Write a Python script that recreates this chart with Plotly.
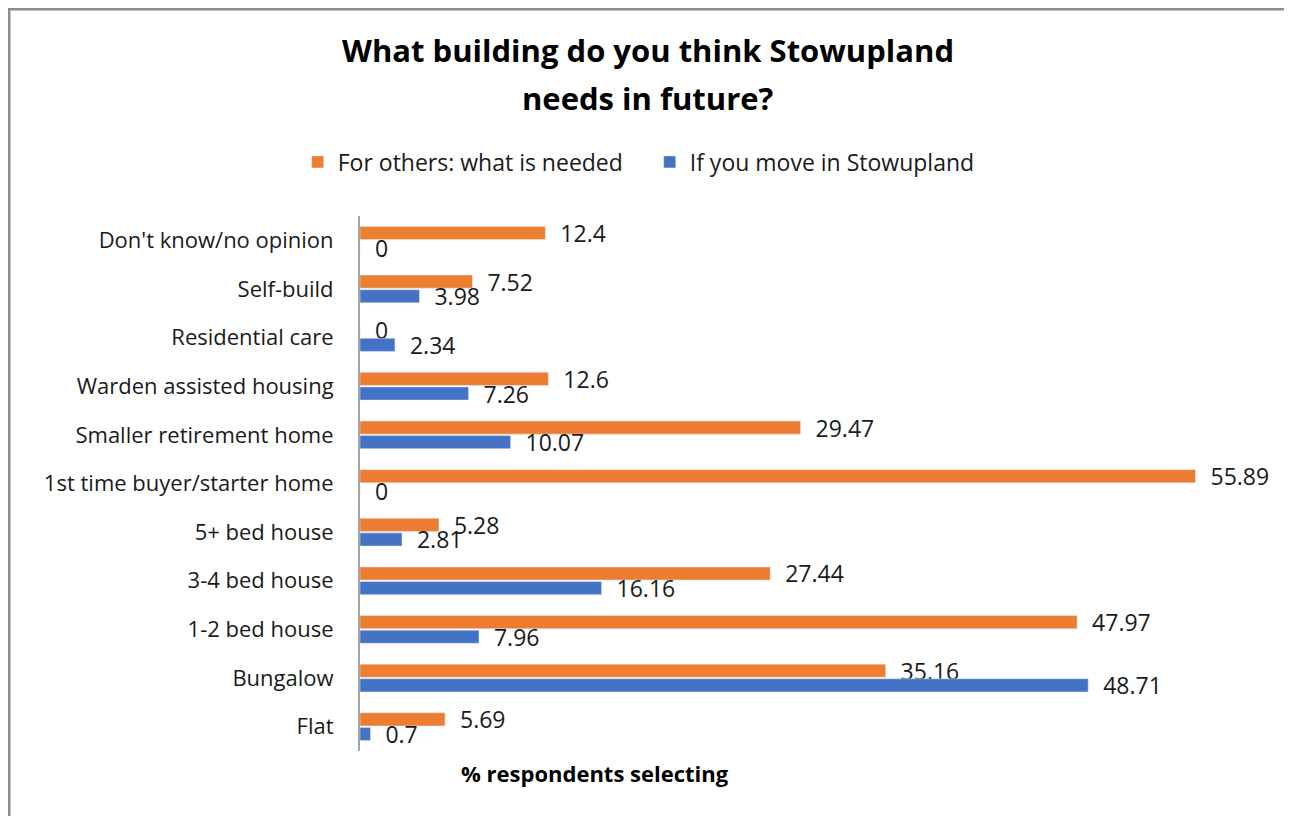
import plotly.graph_objects as go

categories = [
    "Don't know/no opinion",
    "Self-build",
    "Residential care",
    "Warden assisted housing",
    "Smaller retirement home",
    "1st time buyer/starter home",
    "5+ bed house",
    "3-4 bed house",
    "1-2 bed house",
    "Bungalow",
    "Flat",
]
for_others = [12.4, 7.52, 0, 12.6, 29.47, 55.89, 5.28, 27.44, 47.97, 35.16, 5.69]
if_you_move = [0, 3.98, 2.34, 7.26, 10.07, 0, 2.81, 16.16, 7.96, 48.71, 0.7]

FONT = "Open Sans, Noto Sans, sans-serif"
PAD = "\u00a0\u00a0"

fig = go.Figure()
fig.add_trace(go.Bar(
    y=categories, x=for_others, orientation="h",
    name="For others: what is needed",
    marker=dict(color="#ED7D31"),
    text=[PAD + str(v) for v in for_others], textposition="outside",
    constraintext="none",
    textfont=dict(size=23, color="#1a1a1a", family=FONT),
    cliponaxis=False,
))
fig.add_trace(go.Bar(
    y=categories, x=if_you_move, orientation="h",
    name="If you move in Stowupland",
    marker=dict(color="#4472C4"),
    text=[PAD + str(v) for v in if_you_move], textposition="outside",
    constraintext="none",
    textfont=dict(size=23, color="#1a1a1a", family=FONT),
    cliponaxis=False,
))

fig.update_layout(
    width=1284, height=808,
    margin=dict(l=352, r=35, t=208, b=65),
    paper_bgcolor="white", plot_bgcolor="white",
    font=dict(family=FONT, size=22, color="#1a1a1a"),
    barmode="group", bargap=0.4, bargroupgap=0.1,
    showlegend=True,
    legend=dict(
        orientation="h", x=0.323, xanchor="center", y=1.101, yanchor="middle",
        font=dict(size=23, family=FONT), traceorder="normal",
        entrywidth=307, entrywidthmode="pixels",
    ),
    xaxis=dict(range=[0, 60], showgrid=False, zeroline=False, showticklabels=False,
               showline=False, ticks=""),
    yaxis=dict(autorange="reversed", showline=True, linecolor="#a6a6a6", linewidth=2,
               ticks="", ticklabelstandoff=20, automargin=False,
               tickfont=dict(size=22, family=FONT)),
    annotations=[
        dict(text="<b>What building do you think Stowupland</b>", xref="paper", yref="paper",
             x=0.321, y=1.310, xanchor="center", yanchor="middle", showarrow=False,
             font=dict(size=31, family=FONT, color="#000000")),
        dict(text="<b>needs in future?</b>", xref="paper", yref="paper",
             x=0.321, y=1.2206, xanchor="center", yanchor="middle", showarrow=False,
             font=dict(size=31, family=FONT, color="#000000")),
        dict(text="<b>% respondents selecting</b>", xref="paper", yref="paper",
             x=0.262, y=-0.042, xanchor="center", yanchor="middle", showarrow=False,
             font=dict(size=22, family=FONT, color="#000000")),
    ],
    shapes=[dict(
        type="rect", xref="paper", yref="paper",
        x0=-0.3913, x1=1.034, y0=-0.2, y1=1.387,
        line=dict(color="#8c8c8c", width=3), fillcolor="rgba(0,0,0,0)", layer="below",
    )],
)

fig.write_html("out.html")
